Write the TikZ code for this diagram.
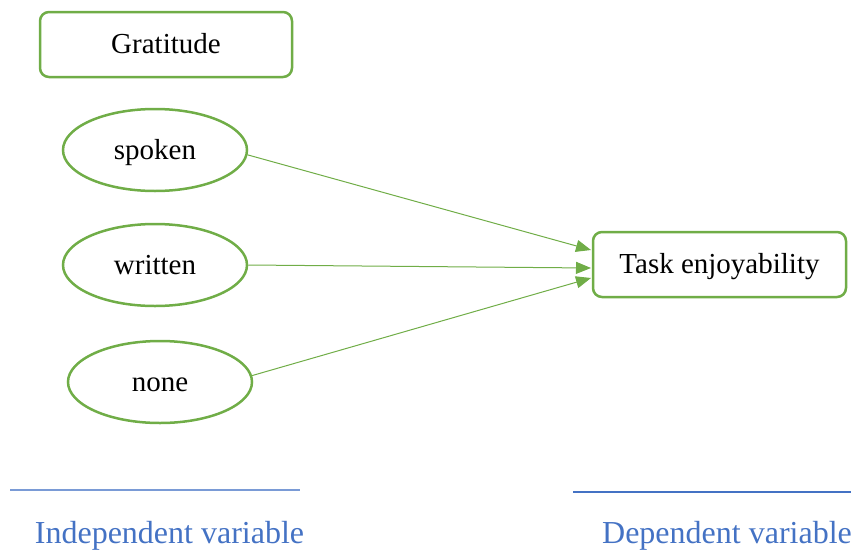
\documentclass[tikz,border=0pt]{standalone}
\usepackage{fontspec}
\setmainfont{Liberation Serif}
\usetikzlibrary{shapes.geometric,arrows.meta}
\definecolor{grn}{HTML}{70AD47}
\definecolor{blu}{HTML}{4472C4}
\definecolor{blul}{HTML}{7A9BD6}
\tikzset{
  rbox/.style={draw=grn,line width=2.5pt,rounded corners=9pt,fill=white,inner sep=0pt,
    text height=21pt,text depth=3pt,font=\fontsize{29}{34}\selectfont},
  oval/.style={draw=grn,line width=2.5pt,ellipse,inner sep=0pt,minimum width=184pt,minimum height=82pt,
    text height=21pt,text depth=3pt,font=\fontsize{29}{34}\selectfont},
  arr/.style={draw=grn,line width=1pt,-{Triangle[length=15pt,width=12pt]}},
  axisline/.style={draw=blul,line width=2pt},
  lbl/.style={text=blu,font=\fontsize{32}{38}\selectfont,inner sep=0pt,anchor=base}
}
\begin{document}
\begin{tikzpicture}[x=1pt,y=-1pt]
\useasboundingbox (0,0) rectangle (851,552);
\node[rbox,minimum width=252pt,minimum height=65pt] (grat) at (166,44.5) {Gratitude};
\node[oval] (spoken) at (155,150) {spoken};
\node[oval] (written) at (155,265) {written};
\node[oval] (none) at (160,382) {none};
\node[rbox,minimum width=253pt,minimum height=65pt] (task) at (719.5,264.5) {Task enjoyability};
\coordinate (t1) at (591,250);
\coordinate (t2) at (591,268);
\coordinate (t3) at (591,278);
\draw[arr] (spoken.-3) -- (t1);
\draw[arr] (written.east) -- (t2);
\draw[arr] (none.4) -- (t3);
\coordinate (l1a) at (10,490);
\coordinate (l1b) at (300,490);
\coordinate (l2a) at (573,492);
\coordinate (l2b) at (851,492);
\draw[axisline] (l1a) -- (l1b);
\draw[axisline,draw=blu,line width=1.5pt] (l2a) -- (l2b);
\node[lbl] (iv) at (169.5,543) {Independent variable};
\node[lbl] (dv) at (727,543) {Dependent variable};
\end{tikzpicture}
\end{document}
